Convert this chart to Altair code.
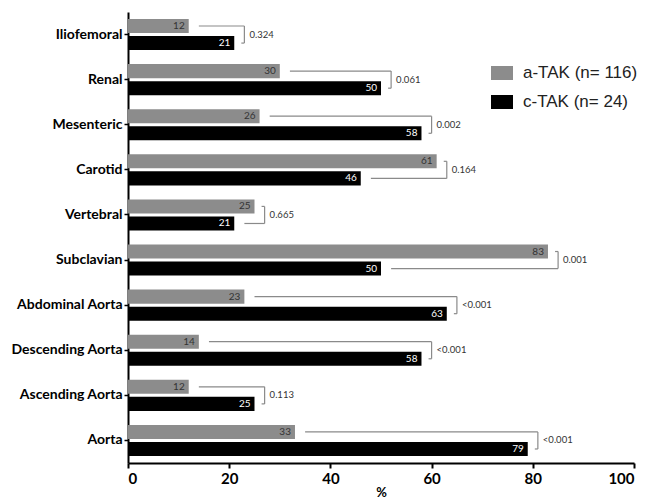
import altair as alt
import pandas as pd

categories = ["Iliofemoral", "Renal", "Mesenteric", "Carotid", "Vertebral",
              "Subclavian", "Abdominal Aorta", "Descending Aorta",
              "Ascending Aorta", "Aorta"]
a_tak = [12, 30, 26, 61, 25, 83, 23, 14, 12, 33]
c_tak = [21, 50, 58, 46, 21, 50, 63, 58, 25, 79]
p_values = ["0.324", "0.061", "0.002", "0.164", "0.665", "0.001",
            "<0.001", "<0.001", "0.113", "<0.001"]
series = ["a-TAK (n= 116)", "c-TAK (n= 24)"]
colors = ["#8c8c8c", "#000000"]
x_ticks = [0, 20, 40, 60, 80, 100]

GAP = 2.0    # bracket distance from bar end (data units)
TICK = 0.6   # short bracket tick length (data units)

long = pd.DataFrame({
    "cat": categories * 2,
    "group": [series[0]] * len(categories) + [series[1]] * len(categories),
    "value": a_tak + c_tak,
})

wide = pd.DataFrame({"cat": categories, "a": a_tak, "c": c_tak, "p": p_values})
wide["bx"] = wide[["a", "c"]].max(axis=1) + GAP
wide["top_x1"] = [a + GAP if a < c else bx - TICK for a, c, bx in zip(wide.a, wide.c, wide.bx)]
wide["bot_x1"] = [c + GAP if c < a else bx - TICK for a, c, bx in zip(wide.a, wide.c, wide.bx)]

TOP_POS = 7 / 31
BOT_POS = 24 / 31

yscale = alt.Scale(domain=categories, paddingInner=0.31, paddingOuter=0.155)
xscale = alt.Scale(domain=[0, 100], nice=False)
xaxis = alt.Axis(values=x_ticks, title="%")

base_bar = alt.Chart(long)

bars = base_bar.mark_bar().encode(
    x=alt.X("value:Q", scale=xscale, axis=xaxis),
    y=alt.Y("cat:N", sort=categories, scale=yscale, title=None),
    yOffset=alt.YOffset("group:N", sort=series,
                        scale=alt.Scale(domain=series, paddingInner=0.176, paddingOuter=0)),
    color=alt.Color("group:N", scale=alt.Scale(domain=series, range=colors),
                    legend=alt.Legend(title=None, orient="none", legendX=363, legendY=50,
                                      padding=0, symbolType="M-1,-0.636H1V0.636H-1Z",
                                      symbolSize=484, symbolStrokeWidth=0,
                                      labelFont="Liberation Sans", labelFontSize=17,
                                      labelColor="#222222", labelOffset=10,
                                      rowPadding=10)),
)

bar_labels = base_bar.mark_text(align="right", baseline="middle", dx=-4,
                                fontSize=10, font="Lato").encode(
    x=alt.X("value:Q", scale=xscale, axis=xaxis),
    y=alt.Y("cat:N", sort=categories, title=None),
    yOffset=alt.YOffset("group:N", sort=series),
    text=alt.Text("value:Q"),
    color=alt.condition(alt.datum.group == series[0], alt.value("#333333"), alt.value("#ffffff")),
)

rule_style = dict(color="#8a8a8a", strokeWidth=1.2)
base_w = alt.Chart(wide)

top_rules = base_w.mark_rule(**rule_style).encode(
    x=alt.X("top_x1:Q", scale=xscale, axis=xaxis),
    x2="bx:Q",
    y=alt.Y("cat:N", sort=categories, bandPosition=TOP_POS, title=None),
)
bot_rules = base_w.mark_rule(**rule_style).encode(
    x=alt.X("bot_x1:Q", scale=xscale, axis=xaxis),
    x2="bx:Q",
    y=alt.Y("cat:N", sort=categories, bandPosition=BOT_POS, title=None),
)
vert_rules = base_w.mark_rule(**rule_style).encode(
    x=alt.X("bx:Q", scale=xscale, axis=xaxis),
    y=alt.Y("cat:N", sort=categories, bandPosition=TOP_POS, title=None),
    y2=alt.Y2("cat", bandPosition=BOT_POS),
)
p_text = base_w.mark_text(align="left", baseline="middle", dx=5, fontSize=9.5,
                          font="Lato", color="#333333").encode(
    x=alt.X("bx:Q", scale=xscale, axis=xaxis),
    y=alt.Y("cat:N", sort=categories, title=None),
    text="p:N",
)

chart = alt.layer(bars, bar_labels, top_rules, bot_rules, vert_rules, p_text).properties(
    width=506, height=451,
    autosize=alt.AutoSizeParams(type="none"),
    padding={"left": 120, "top": 4, "right": 5, "bottom": 38},
).configure_view(stroke=None).configure_axisY(
    labelFont="Lato", labelFontWeight="bold", labelFontSize=14, labelColor="#000000",
    tickSize=4, tickColor="#000000", tickWidth=1.5, domainColor="#000000",
    domainWidth=2, labelPadding=2, grid=False,
).configure_axisX(
    labelFont="Lato", labelFontWeight="bold", labelFontSize=15, labelColor="#000000",
    tickSize=5, tickColor="#000000", tickWidth=2, domainColor="#000000",
    domainWidth=2, labelPadding=3, grid=False,
    titleFont="Lato", titleFontWeight="bold", titleFontSize=13, titleColor="#000000",
    titlePadding=0,
)

chart.save("out.html", embed_options={"renderer": "svg", "actions": False})
